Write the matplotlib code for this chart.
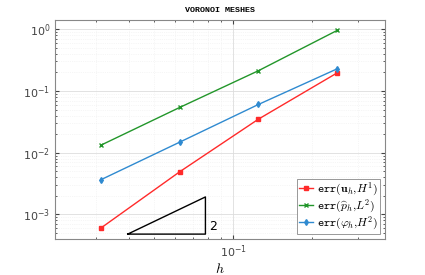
import matplotlib
matplotlib.use('Agg')
import matplotlib.pyplot as plt
import numpy as np

plt.rcParams['mathtext.fontset'] = 'cm'
plt.rcParams['font.family'] = 'DejaVu Sans'

h = [1/32, 1/16, 1/8, 1/4]
err_u = [6.0e-4, 4.9e-3, 3.5e-2, 0.197]
err_p = [1.32e-2, 5.4e-2, 0.213, 0.96]
err_phi = [3.64e-3, 1.48e-2, 6.05e-2, 0.229]

labels = [r'$\mathtt{err(}\mathbf{u}_h\mathtt{,}H^1\mathtt{)}$',
          r'$\mathtt{err(}\widehat{p}_h\mathtt{,}L^2\mathtt{)}$',
          r'$\mathtt{err(}\varphi_h\mathtt{,}H^2\mathtt{)}$']

# slope triangle
tri_x = [0.0396, 0.0784, 0.0784, 0.0396]
tri_y = [4.8e-4, 4.8e-4, 1.92e-3, 4.8e-4]

fig = plt.figure(figsize=(4.25, 2.75), dpi=100)
ax = fig.add_axes([55/425, 1 - 239/275, 330/425, 219/275])

ax.loglog(h, err_u, '-s', color='#ff2a2a', lw=1, ms=2.5, label=labels[0])
ax.loglog(h, err_p, '-x', color='#22962a', lw=1, ms=3.5, mew=1, label=labels[1])
ax.loglog(h, err_phi, '-d', color='#2f8ad0', lw=1, ms=3, label=labels[2])
ax.plot(tri_x, tri_y, 'k-', lw=1)
ax.text(0.081, 6.3e-4, '2', fontsize=9, va='center', ha='left')

ax.set_xlim(0.0209, 0.38)
ax.set_ylim(4.0e-4, 1.41)
ax.set_xticks([0.1])
ax.set_xticklabels([r'$\mathregular{10^{-1}}$'])
ax.set_yticks([1e-3, 1e-2, 1e-1, 1])
ax.set_yticklabels([r'$\mathregular{10^{-3}}$', r'$\mathregular{10^{-2}}$',
                    r'$\mathregular{10^{-1}}$', r'$\mathregular{10^{0}}$'])
ax.tick_params(which='both', direction='in', top=True, right=True,
               labelsize=8, colors='#444444', length=3)
ax.tick_params(which='minor', length=1.5)
ax.grid(True, which='major', color='#dddddd', lw=0.6)
ax.grid(True, which='minor', color='#eeeeee', lw=0.5, ls=':')
for s in ax.spines.values():
    s.set_color('#888888')
    s.set_linewidth(0.8)

ax.set_xlabel(r'$h$', fontsize=10, labelpad=1)
ax.set_title('VORONOI MESHES', fontsize=6, family='Liberation Mono',
             fontweight='bold', pad=6)

leg = ax.legend(loc='lower right', fontsize=8.5, handlelength=1.2,
                handletextpad=0.3, borderpad=0.15, labelspacing=0.0,
                fancybox=False, framealpha=1, edgecolor='#888888',
                borderaxespad=0.45)
leg.get_frame().set_linewidth(0.6)

fig.savefig('out.png', dpi=100)
